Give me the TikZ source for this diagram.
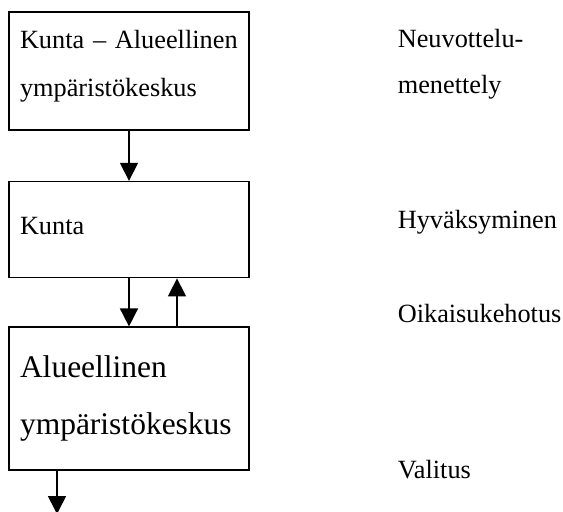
\documentclass[tikz,border=0pt]{standalone}
\usepackage{fontspec}
\setmainfont{Liberation Serif}
\usetikzlibrary{positioning, arrows.meta}

\begin{document}
\begin{tikzpicture}[auto, node distance=24pt, >={Triangle[length=9pt,width=9pt]}, line width=0.8pt]
  \tikzstyle{block} = [draw, rectangle, minimum width=120pt, text width=109pt, inner xsep=5.5pt, align=left, font=\fontsize{13.15}{24}\selectfont]
  \tikzstyle{note} = [anchor=base west, inner sep=0pt, align=left, font=\fontsize{13.15}{23}\selectfont]
  \useasboundingbox (0,0) rectangle (281.5pt,-255.5pt);

  \node [block, minimum height=59pt, text depth=31.5pt] (neuv) at (64.5pt,-35.5pt) {Kunta – Alueellinen\\ympäristökeskus};
  \node [block, minimum height=48pt, text depth=3.5pt, below=25pt of neuv] (kunta) {Kunta};
  \node [block, minimum height=71.5pt, below=of kunta, font=\fontsize{15.75}{28.5}\selectfont] (keskus) {Alueellinen\\ympäristökeskus};
  \coordinate (out) at ([xshift=-36pt, yshift=-21.5pt]keskus.south);

  \node [note] (lneuv) at (198.5pt,-46.5pt) {Neuvottelu-\\menettely};
  \node [note] (lhyv) at (198.5pt,-114pt) {Hyväksyminen};
  \node [note] (loik) at (198.5pt,-161pt) {Oikaisukehotus};
  \node [note] (lval) at (198.5pt,-239pt) {Valitus};

  \draw [->] (neuv) -- (kunta);
  \draw [->] (kunta) -- (keskus);
  \draw [->] ([xshift=24pt]keskus.north) -- ([xshift=24pt]kunta.south);
  \draw [->] (keskus.south -| out) -- (out);
\end{tikzpicture}
\end{document}
